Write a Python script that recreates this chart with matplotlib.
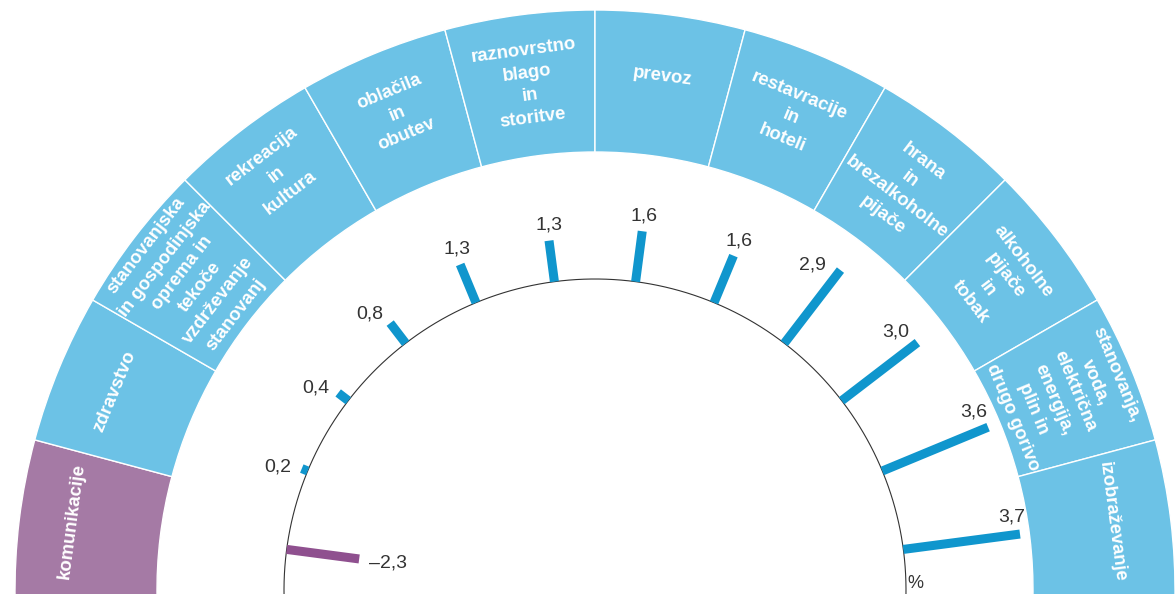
import numpy as np
import matplotlib.pyplot as plt

# Categories (left to right along the half circle) and their values in %
categories = ['komunikacije', 'zdravstvo',
              'stanovanjska\nin gospodinjska\noprema in\ntekoče\nvzdrževanje\nstanovanj',
              'rekreacija\nin\nkultura', 'oblačila\nin\nobutev',
              'raznovrstno\nblago\nin\nstoritve', 'prevoz',
              'restavracije\nin\nhoteli', 'hrana\nin\nbrezalkoholne\npijače',
              'alkoholne\npijače\nin\ntobak',
              'stanovanja,\nvoda,\nelektrična\nenergija,\nplin in\ndrugo gorivo',
              'izobraževanje']
values = [-2.3, 0.2, 0.4, 0.8, 1.3, 1.3, 1.6, 1.6, 2.9, 3.0, 3.6, 3.7]
value_labels = ['–2,3', '0,2', '0,4', '0,8', '1,3', '1,3', '1,6', '1,6',
                '2,9', '3,0', '3,6', '3,7']

# layout (pixels)
W, H = 1175, 594
cx, cy = 595, 4          # centre of the half circle (from bottom-left)
k = 31.8                 # pixels per 1 %
r0 = 311.0               # inner circle radius
band_in = (438 - r0) / k
band_out = (580 - r0) / k
rtop = (584 - r0) / k
R = (rtop + r0 / k) * k

blue_band = '#6cc2e6'
purple_band = '#a57aa5'
blue_bar = '#1096cd'
purple_bar = '#8f508f'

plt.rcParams['font.family'] = ['Liberation Sans', 'DejaVu Sans']

fig = plt.figure(figsize=(W / 100, H / 100), dpi=100)
ax = fig.add_axes([(cx - R) / W, (cy - R) / H, 2 * R / W, 2 * R / H],
                  projection='polar')
ax.set_ylim(-r0 / k, rtop)
ax.set_axis_off()

n = len(categories)
step = np.pi / n
theta = np.pi - step / 2 - step * np.arange(n)

# outer band with category names (end pieces run to the bottom edge)
ext = 0.02
left = np.pi - step * (np.arange(n) + 1)
widths = np.full(n, step)
widths[0] += ext
left[-1] -= ext
widths[-1] += ext
band_colors = [purple_band] + [blue_band] * (n - 1)
ax.bar(left, band_out - band_in, width=widths, bottom=band_in, align='edge',
       color=band_colors, edgecolor='white', linewidth=1)

label_r = [528, 520, 509, 524, 516, 510, 518, 512, 506, 506, 508, 522]
label_ls = [1.0, 1.0, 1.42, 1.45, 1.45, 1.45, 1.0, 1.45, 1.4, 1.4, 1.42, 1.0]
for th, name, rr, ls in zip(theta, categories, label_r, label_ls):
    ax.text(th, (rr - r0) / k, name, rotation=np.degrees(th) - 90,
            rotation_mode='anchor', ha='center', va='center',
            multialignment='center', color='white', fontsize=13.3,
            fontweight='bold', linespacing=ls)

# inner circle
circ = np.linspace(-0.02, np.pi + 0.02, 400)
ax.plot(circ, np.zeros_like(circ), color='#333333', lw=0.8)

# value bars
offsets = [(29, -4), (-24, 2), (-22, 5), (-20, 9), (-3, 15), (0, 16),
           (2, 15), (6, 15), (-28, 5), (-22, 11), (-14, 15), (-8, 17)]
for th, v, lab, off in zip(theta, values, value_labels, offsets):
    col = purple_bar if v < 0 else blue_bar
    ax.plot([th, th], [0, v], color=col, lw=6.5, solid_capstyle='butt')
    ax.annotate(lab, xy=(th, v), xytext=off, textcoords='offset pixels',
                ha='center', va='center', fontsize=14, color='#333333')

ax.text(0.02, 0.3, '%', ha='center', va='center', fontsize=13,
        color='#333333')

fig.savefig('out.png', dpi=100)
